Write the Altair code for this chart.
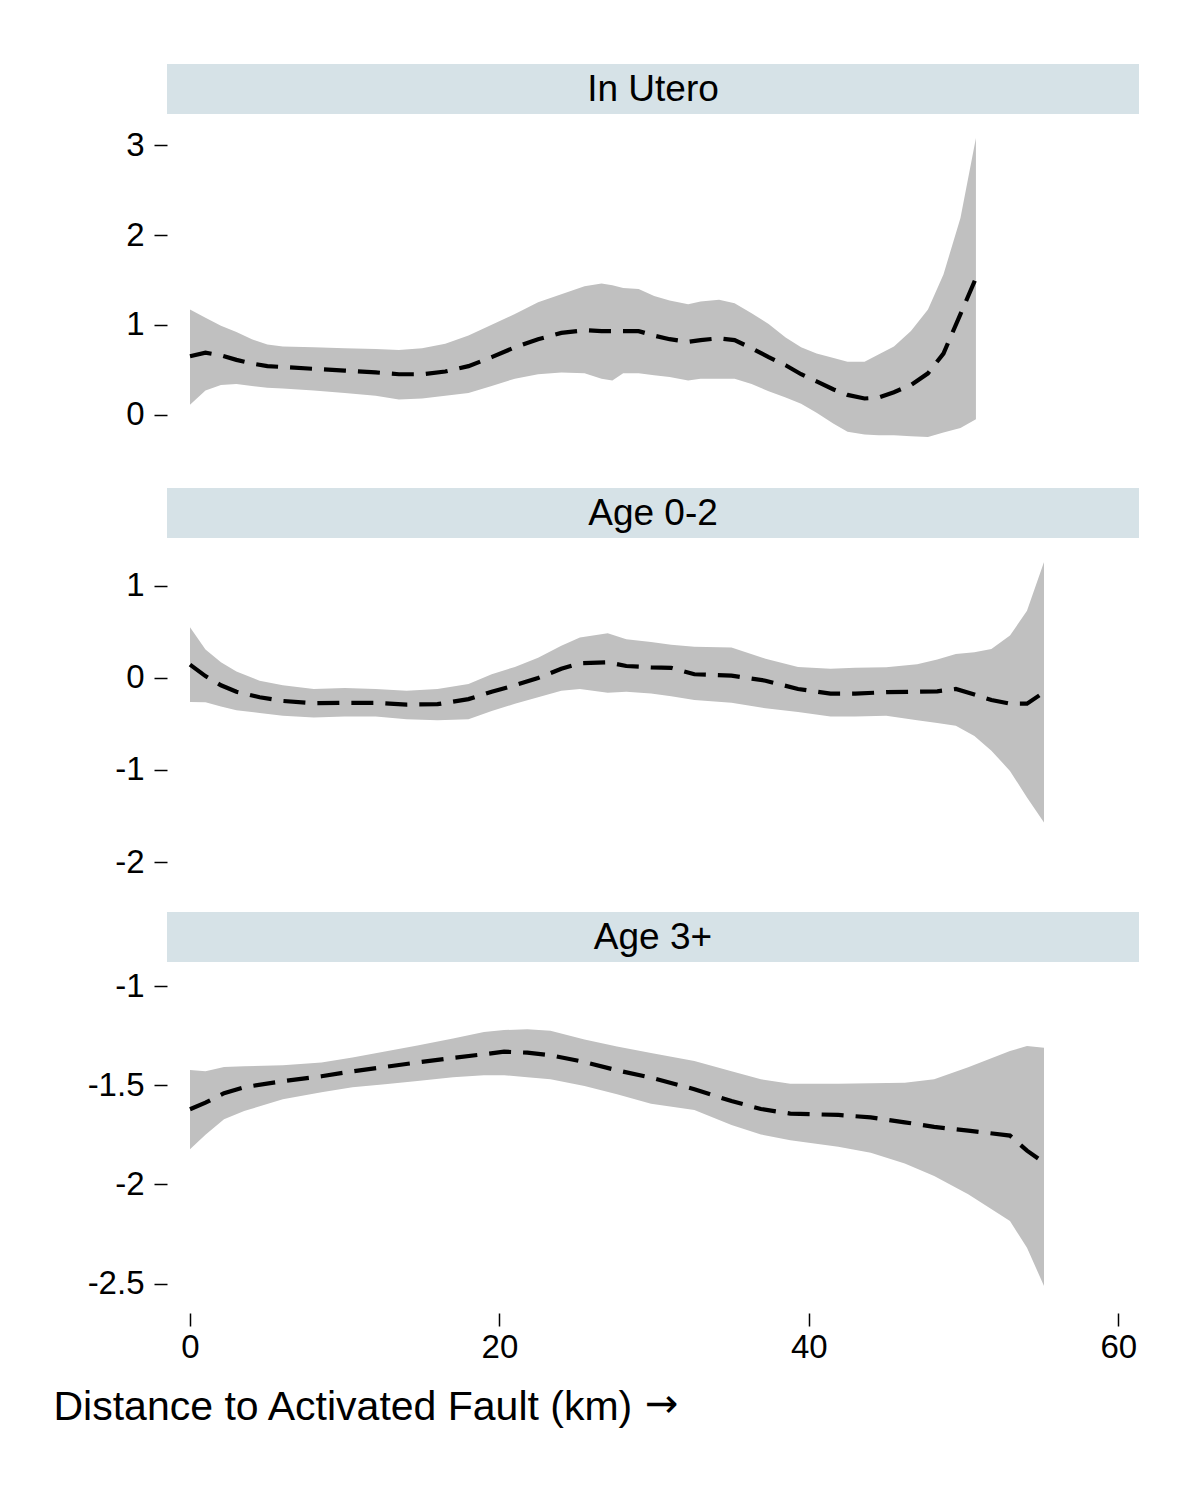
import altair as alt
import pandas as pd

# ---------------- data ----------------
PANEL_LABELS = ["In Utero", "Age 0-2", "Age 3+"]

UT_X   = [0, 1, 2, 3, 4, 5, 6, 8, 10, 12, 13.5, 15, 16.5, 18, 19.5, 21, 22.5, 24, 25.5, 26.6, 27.3, 28, 29, 30, 31, 32.2, 33, 34.2, 35.2, 36.3, 37.4, 38.5, 39.5, 40.5, 41.6, 42.5, 43.6, 44.5, 45.5, 46.6, 47.7, 48.7, 49.8, 50.8]
UT_LO  = [0.11, 0.27, 0.33, 0.34, 0.32, 0.30, 0.29, 0.27, 0.24, 0.21, 0.17, 0.18, 0.21, 0.24, 0.32, 0.40, 0.45, 0.47, 0.46, 0.40, 0.38, 0.46, 0.46, 0.44, 0.42, 0.38, 0.40, 0.40, 0.40, 0.34, 0.26, 0.19, 0.12, 0.02, -0.10, -0.19, -0.22, -0.23, -0.23, -0.24, -0.25, -0.20, -0.15, -0.05]
UT_MID = [0.65, 0.69, 0.66, 0.61, 0.57, 0.54, 0.53, 0.51, 0.49, 0.47, 0.45, 0.45, 0.48, 0.54, 0.64, 0.75, 0.84, 0.91, 0.94, 0.93, 0.93, 0.93, 0.93, 0.88, 0.84, 0.81, 0.83, 0.85, 0.83, 0.74, 0.64, 0.55, 0.45, 0.37, 0.28, 0.22, 0.18, 0.19, 0.25, 0.33, 0.46, 0.68, 1.12, 1.52]
UT_HI  = [1.17, 1.08, 0.99, 0.92, 0.84, 0.78, 0.76, 0.75, 0.74, 0.73, 0.72, 0.74, 0.79, 0.88, 1.00, 1.12, 1.25, 1.34, 1.43, 1.46, 1.44, 1.41, 1.40, 1.32, 1.27, 1.23, 1.26, 1.28, 1.24, 1.13, 1.01, 0.86, 0.75, 0.68, 0.63, 0.59, 0.59, 0.67, 0.76, 0.93, 1.17, 1.56, 2.19, 3.08]

A02_X   = [0, 1, 2, 3, 4.5, 6, 8, 10, 12, 14, 16, 18, 19.5, 21, 22.5, 24, 25.2, 27, 28.2, 29.8, 31.1, 32.6, 35, 37.2, 39.3, 41.4, 43, 45, 47, 48.3, 49.5, 50.7, 51.8, 53, 54.1, 55.2]
A02_LO  = [-0.26, -0.265, -0.31, -0.35, -0.38, -0.41, -0.43, -0.42, -0.42, -0.45, -0.46, -0.45, -0.36, -0.28, -0.21, -0.14, -0.12, -0.16, -0.15, -0.17, -0.20, -0.24, -0.27, -0.33, -0.37, -0.42, -0.42, -0.41, -0.46, -0.49, -0.52, -0.63, -0.79, -1.01, -1.30, -1.57]
A02_MID = [0.145, 0.02, -0.08, -0.15, -0.21, -0.25, -0.275, -0.27, -0.27, -0.29, -0.285, -0.23, -0.15, -0.08, 0.0, 0.10, 0.16, 0.17, 0.13, 0.115, 0.11, 0.04, 0.025, -0.03, -0.12, -0.17, -0.17, -0.155, -0.15, -0.145, -0.12, -0.18, -0.24, -0.28, -0.28, -0.155]
A02_HI  = [0.55, 0.31, 0.17, 0.07, -0.03, -0.08, -0.12, -0.11, -0.12, -0.14, -0.12, -0.065, 0.04, 0.12, 0.22, 0.35, 0.44, 0.485, 0.42, 0.39, 0.36, 0.34, 0.33, 0.21, 0.12, 0.10, 0.11, 0.115, 0.15, 0.20, 0.26, 0.28, 0.315, 0.46, 0.73, 1.26]

A3_X   = [0, 1, 2.2, 3.5, 6, 8.5, 10.5, 12.6, 14.7, 17, 19, 20.3, 21.8, 23.3, 25.5, 27.6, 29.8, 32.6, 35, 36.9, 38.8, 41.9, 44, 46.2, 48.1, 50.3, 53, 54.1, 55.2]
A3_LO  = [-1.823, -1.75, -1.672, -1.63, -1.571, -1.535, -1.51, -1.495, -1.479, -1.46, -1.45, -1.45, -1.46, -1.47, -1.504, -1.546, -1.594, -1.625, -1.70, -1.748, -1.777, -1.81, -1.84, -1.895, -1.958, -2.05, -2.185, -2.319, -2.512]
A3_MID = [-1.621, -1.588, -1.54, -1.51, -1.48, -1.455, -1.43, -1.408, -1.385, -1.362, -1.344, -1.331, -1.336, -1.349, -1.383, -1.425, -1.462, -1.52, -1.58, -1.62, -1.643, -1.65, -1.662, -1.687, -1.71, -1.729, -1.754, -1.83, -1.89]
A3_HI  = [-1.423, -1.43, -1.408, -1.405, -1.40, -1.385, -1.36, -1.33, -1.30, -1.265, -1.232, -1.222, -1.218, -1.225, -1.27, -1.305, -1.338, -1.378, -1.43, -1.47, -1.493, -1.493, -1.49, -1.488, -1.47, -1.41, -1.328, -1.302, -1.311]

X_TICKS = [0, 20, 40, 60]
Y_TICKS = [[0, 1, 2, 3], [-2, -1, 0, 1], [-2.5, -2, -1.5, -1]]
Y_DOMAINS = [[-0.26, 3.08], [-2.0, 1.26], [-2.512, -1.0]]
X_DOMAIN = [-1.487, 61.34]
X_TITLE = "Distance to Activated Fault (km)"
X_TITLE_ARROW = "\u2192"

# ---------------- styling ----------------
W, H = 972, 300
FONT = "Liberation Sans"
STRIP = "#D6E2E7"
BAND = "#C0C0C0"


def panel(label, xs, lo, mid, hi, ydom, yticks, show_x):
    df = pd.DataFrame({"x": xs, "lo": lo, "mid": mid, "hi": hi})
    xscale = alt.Scale(domain=X_DOMAIN, nice=False, zero=False)
    yscale = alt.Scale(domain=ydom, nice=False, zero=False)
    if show_x:
        xaxis = alt.Axis(
            values=X_TICKS, title=X_TITLE, grid=False, domain=False,
            tickSize=13, tickWidth=1.5, tickColor="black", offset=27,
            labelFontSize=33, labelFont=FONT, labelColor="black", labelPadding=5,
            titleFontSize=41, titleFont=FONT, titleFontWeight="normal", titleColor="black",
            titleAnchor="start", titleAlign="left", titleBaseline="alphabetic",
            titleX=-114, titleY=106,
        )
    else:
        xaxis = None
    yaxis = alt.Axis(
        values=yticks, labelExpr="'' + datum.value", title="", grid=False, domain=False,
        tickSize=13, tickWidth=1.5, tickColor="black",
        labelFontSize=33, labelFont=FONT, labelColor="black", labelPadding=10,
    )
    band = alt.Chart(df).mark_area(color=BAND, opacity=1).encode(
        x=alt.X("x:Q", scale=xscale, axis=xaxis),
        y=alt.Y("lo:Q", scale=yscale, axis=yaxis),
        y2="hi:Q",
    )
    line = alt.Chart(df).mark_line(color="black", strokeWidth=4.2, strokeDash=[22, 12]).encode(
        x="x:Q", y="mid:Q"
    )
    lab = pd.DataFrame({"label": [label]})
    strip = alt.Chart(lab).mark_rect(color=STRIP).encode(
        x=alt.value(0), x2=alt.value(W), y=alt.value(-74), y2=alt.value(-24)
    )
    text = alt.Chart(lab).mark_text(
        fontSize=37, font=FONT, color="black", align="center", baseline="middle"
    ).encode(text="label:N", x=alt.value(W / 2), y=alt.value(-48))
    layers = [strip, text, band, line]
    if show_x:
        arrow = alt.Chart(pd.DataFrame({"a": [X_TITLE_ARROW]})).mark_text(
            fontSize=40, font="DejaVu Sans", color="black", align="left", baseline="alphabetic"
        ).encode(text="a:N", x=alt.value(478), y=alt.value(H + 27 + 106 - 2))
        layers.append(arrow)
    return alt.layer(*layers).properties(width=W, height=H)


p1 = panel(PANEL_LABELS[0], UT_X, UT_LO, UT_MID, UT_HI, Y_DOMAINS[0], Y_TICKS[0], False)
p2 = panel(PANEL_LABELS[1], A02_X, A02_LO, A02_MID, A02_HI, Y_DOMAINS[1], Y_TICKS[1], False)
p3 = panel(PANEL_LABELS[2], A3_X, A3_LO, A3_MID, A3_HI, Y_DOMAINS[2], Y_TICKS[2], True)

chart = alt.vconcat(p1, p2, p3, spacing=124, bounds="flush").properties(
    padding={"left": 44, "top": 55, "right": 5, "bottom": 5},
    background="white",
).configure_view(stroke="transparent")

chart.save("out.html", embed_options={"renderer": "svg", "actions": False})
